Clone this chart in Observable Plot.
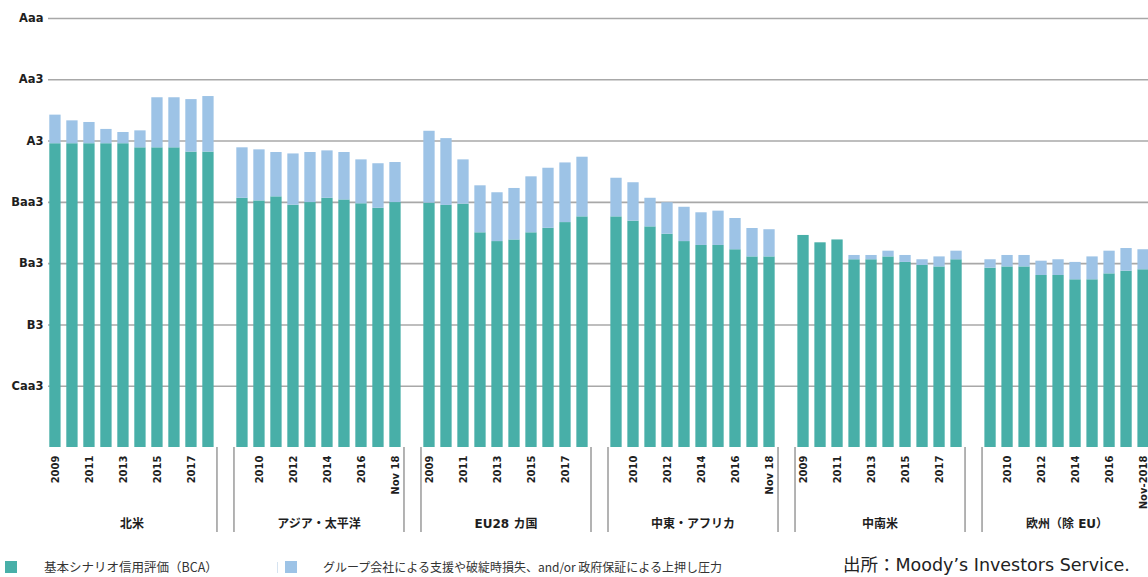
<!DOCTYPE html>
<html><head><meta charset="utf-8">
<script src="https://cdn.jsdelivr.net/npm/d3@7"></script>
<script src="https://cdn.jsdelivr.net/npm/@observablehq/plot@0.6"></script>
<style>
html,body{margin:0;padding:0;background:#fff;overflow:hidden;}
#wrap{position:relative;width:1148px;height:577px;overflow:hidden;}
#wrap svg{position:absolute;left:0;top:0;}
.leg{position:absolute;font-family:"Noto Sans CJK JP","Noto Sans",sans-serif;color:#333;white-space:nowrap;}
.sw{position:absolute;width:12px;height:12px;}
</style></head><body><div id="wrap"></div>
<script>
// ---- data ----
const regions = ["北米", "アジア・太平洋", "EU28 カ国", "中東・アフリカ", "中南米", "欧州（除 EU）"];
const years = [2009, 2010, 2011, 2012, 2013, 2014, 2015, 2016, 2017, 2018];
// rating scale: notches above bottom (Caa3 = 3 ... Aaa = 21)
const ratingValues = [3, 6, 9, 12, 15, 18, 21];
const ratingLabels = ["Caa3", "B3", "Ba3", "Baa3", "A3", "Aa3", "Aaa"];
// BCA (baseline credit assessment) per region
const bcaNA    = [14.87, 14.87, 14.87, 14.87, 14.87, 14.67, 14.67, 14.67, 14.46, 14.46];
const bcaAP    = [12.20, 12.07, 12.27, 11.86, 11.99, 12.20, 12.12, 11.93, 11.71, 11.99];
const bcaEU    = [11.96, 11.85, 11.91, 10.51, 10.08, 10.16, 10.51, 10.73, 11.01, 11.29];
const bcaMEA   = [11.29, 11.08, 10.80, 10.44, 10.08, 9.89, 9.89, 9.68, 9.33, 9.33];
const bcaLA    = [10.38, 10.02, 10.16, 9.19, 9.19, 9.33, 9.06, 8.91, 8.84, 9.19];
const bcaEXEU  = [8.78, 8.84, 8.84, 8.42, 8.42, 8.21, 8.21, 8.50, 8.63, 8.70];
// uplift from affiliate/government support & LGF
const upNA     = [1.40, 1.12, 1.04, 0.70, 0.55, 0.83, 2.45, 2.45, 2.57, 2.72];
const upAP     = [2.47, 2.50, 2.17, 2.51, 2.45, 2.32, 2.32, 2.15, 2.18, 1.96];
const upEU     = [3.52, 3.27, 2.17, 2.30, 2.39, 2.52, 2.74, 2.94, 2.92, 2.92];
const upMEA    = [1.89, 1.88, 1.40, 1.54, 1.68, 1.60, 1.68, 1.53, 1.39, 1.33];
const upLA     = [0, 0, 0, 0.21, 0.21, 0.28, 0.34, 0.28, 0.49, 0.42];
const upEXEU   = [0.41, 0.56, 0.56, 0.70, 0.77, 0.85, 1.12, 1.11, 1.11, 0.98];
// x tick labels per region
const tickNA   = ["2009", "", "2011", "", "2013", "", "2015", "", "2017", ""];
const tickAP   = ["", "2010", "", "2012", "", "2014", "", "2016", "", "Nov 18"];
const tickEU   = ["2009", "", "2011", "", "2013", "", "2015", "", "2017", ""];
const tickMEA  = ["", "2010", "", "2012", "", "2014", "", "2016", "", "Nov 18"];
const tickLA   = ["2009", "", "2011", "", "2013", "", "2015", "", "2017", ""];
const tickEXEU = ["", "2010", "", "2012", "", "2014", "", "2016", "", "Nov-2018"];

const seriesNames = ["基本シナリオ信用評価（BCA）", "グループ会社による支援や破綻時損失、and/or 政府保証による上押し圧力"];
const sourceText = "出所：Moody’s Investors Service.";

// ---- build table ----
const bcaAll = [bcaNA, bcaAP, bcaEU, bcaMEA, bcaLA, bcaEXEU];
const upAll = [upNA, upAP, upEU, upMEA, upLA, upEXEU];
const tickAll = [tickNA, tickAP, tickEU, tickMEA, tickLA, tickEXEU];
const keyOf = (g, i) => `${g}|${i}`;
const rows = [];
const domain = [];
const labelByKey = new Map();
regions.forEach((g, gi) => {
  years.forEach((yr, i) => {
    const k = keyOf(gi, i);
    domain.push(k);
    rows.push({key: k, region: g, year: yr, bca: bcaAll[gi][i], total: bcaAll[gi][i] + upAll[gi][i]});
    if (tickAll[gi][i]) labelByKey.set(k, tickAll[gi][i]);
  });
  if (gi < regions.length - 1) domain.push(`gap${gi}`);
});
const teal = "#48afa8", blue = "#9dc3e6";
const leftSeps = regions.map((g, gi) => keyOf(gi, 0)).slice(1);
const rightSeps = regions.map((g, gi) => keyOf(gi, 9)).slice(0, -1);
const half = 8.5;

const plot = Plot.plot({
  width: 1148, height: 545,
  marginTop: 18, marginBottom: 98, marginLeft: 48, marginRight: 0,
  style: {fontFamily: "DejaVu Sans", background: "transparent"},
  x: {type: "band", domain, range: [48, 1150], paddingInner: 0.335, paddingOuter: 0.076, align: 0.5, round: false, axis: null, label: null},
  y: {domain: [0, 21], axis: null, label: null},
  marks: [
    Plot.ruleY(ratingValues, {stroke: "#a8a8a8", strokeWidth: 1.6}),
    Plot.barY(rows, {x: "key", y1: 0, y2: "bca", fill: teal}),
    Plot.barY(rows, {x: "key", y1: "bca", y2: "total", fill: blue}),
    Plot.axisY({ticks: ratingValues, tickFormat: v => ratingLabels[ratingValues.indexOf(v)], tickSize: 0, tickPadding: 5,
      fontSize: 11.5, fontWeight: "bold", fill: "#1e1e1e", fontFamily: "DejaVu Sans", label: null}),
    Plot.axisX({ticks: [...labelByKey.keys()], tickFormat: k => labelByKey.get(k), tickRotate: -90, tickSize: 0, tickPadding: 8,
      fontSize: 10, fontWeight: "bold", fill: "#1e1e1e", fontFamily: "DejaVu Sans", label: null}),
    Plot.ruleX(leftSeps, {x: d => d, dx: -half, y1: () => 0, y2: () => -4.16, stroke: "#9a9a9a", strokeWidth: 1.5}),
    Plot.ruleX(rightSeps, {x: d => d, dx: half, y1: () => 0, y2: () => -4.16, stroke: "#9a9a9a", strokeWidth: 1.5}),
    Plot.text(regions, {x: (g, i) => keyOf(i, 4), dx: half, frameAnchor: "bottom", dy: 80, text: d => d,
      fontSize: 12, fontWeight: "bold", fill: "#1e1e1e", fontFamily: "DejaVu Sans, Noto Sans CJK JP"})
  ]
});
const wrap = document.getElementById("wrap");
wrap.appendChild(plot);

function el(cls, css, text) {
  const d = document.createElement("div");
  d.className = cls;
  Object.assign(d.style, css);
  if (text) d.textContent = text;
  wrap.appendChild(d);
  return d;
}
el("sw", {left: "5px", top: "561px", background: teal});
el("leg", {left: "44px", top: "559px", fontSize: "12.5px", lineHeight: "16px"}, seriesNames[0]);
el("sw", {left: "277px", top: "562px", width: "1px", height: "11px", background: "#d6e3f0"});
el("sw", {left: "285px", top: "561px", background: blue});
el("leg", {left: "323px", top: "559px", fontSize: "12px", lineHeight: "16px"}, seriesNames[1]);
el("leg", {left: "843px", top: "555px", fontSize: "17.5px", lineHeight: "21px", color: "#222", fontFamily: "'DejaVu Sans', 'Noto Sans CJK JP'"}, sourceText);
</script></body></html>
